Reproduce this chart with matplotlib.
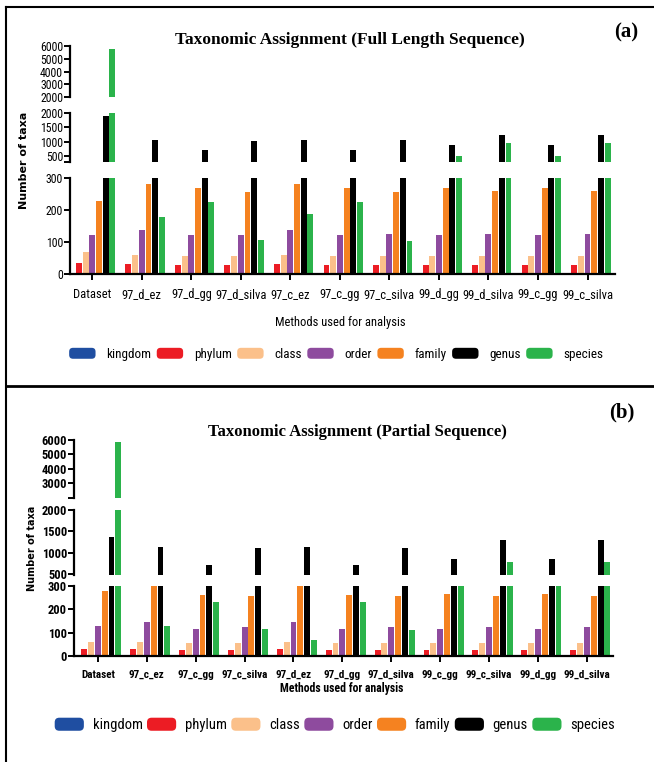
import matplotlib
matplotlib.use('Agg')
import matplotlib.pyplot as plt
from matplotlib.patches import Patch, FancyBboxPatch
from matplotlib.legend_handler import HandlerPatch
from matplotlib.lines import Line2D
from matplotlib import font_manager as fm
import numpy as np

ranks = ['kingdom', 'phylum', 'class', 'order', 'family', 'genus', 'species']
colors = ['#1f4ea1', '#ec1c24', '#fbc08a', '#8e4b9e', '#f58220', '#000000', '#2bb34b']

# Panel (a): Full length sequence
methods_a = ['Dataset', '97_d_ez', '97_d_gg', '97_d_silva', '97_c_ez', '97_c_gg',
             '97_c_silva', '99_d_gg', '99_d_silva', '99_c_gg', '99_c_silva']
kingdom_a = [3, 3, 3, 3, 3, 3, 3, 3, 3, 3, 3]
phylum_a = [35, 30, 28, 28, 30, 28, 28, 28, 28, 28, 28]
class_a = [70, 58, 57, 56, 59, 57, 56, 57, 57, 57, 57]
order_a = [123, 137, 121, 123, 136, 121, 124, 121, 126, 121, 126]
family_a = [229, 281, 268, 255, 280, 268, 256, 268, 258, 268, 258]
genus_a = [1900, 1060, 730, 1040, 1060, 710, 1050, 880, 1240, 880, 1240]
species_a = [5750, 178, 226, 106, 187, 225, 103, 515, 945, 515, 945]

# Panel (b): Partial sequence
methods_b = ['Dataset', '97_c_ez', '97_c_gg', '97_c_silva', '97_d_ez', '97_d_gg',
             '97_d_silva', '99_c_gg', '99_c_silva', '99_d_gg', '99_d_silva']
kingdom_b = [3, 3, 3, 3, 3, 3, 3, 3, 3, 3, 3]
phylum_b = [30, 30, 27, 27, 30, 27, 27, 27, 27, 27, 27]
class_b = [60, 62, 56, 57, 62, 56, 57, 57, 57, 57, 57]
order_b = [128, 147, 115, 123, 147, 115, 124, 116, 123, 116, 123]
family_b = [280, 320, 263, 257, 320, 262, 257, 265, 257, 265, 257]
genus_b = [1370, 1130, 700, 1110, 1130, 700, 1110, 850, 1290, 850, 1290]
species_b = [5870, 130, 233, 115, 68, 230, 112, 420, 780, 420, 780]

# pick a condensed sans face if one is installed
NARROW = ['Liberation Sans', 'DejaVu Sans']
STRETCH = 'normal'
SCALE = 0.9
_names = {f.name for f in fm.fontManager.ttflist}
for cand in ['Liberation Sans Narrow', 'Arial Narrow', 'Roboto Condensed',
             'Open Sans Condensed', 'Noto Sans Condensed', 'DejaVu Sans Condensed']:
    if cand in _names:
        NARROW = [cand, 'DejaVu Sans']
        SCALE = 1.0
        break
else:
    for f in fm.fontManager.ttflist:
        st = str(f.stretch)
        if 'condensed' in st and 'Mono' not in f.name and 'Serif' not in f.name \
                and 'CJK' not in f.name:
            NARROW = [f.name, 'DejaVu Sans']
            STRETCH = st
            SCALE = 1.0
            break

SERIF = ['Liberation Serif', 'DejaVu Serif']


def nfont(size, bold=False):
    return fm.FontProperties(family=NARROW, size=size * SCALE,
                             weight='bold' if bold else 'normal', stretch=STRETCH)


fig = plt.figure(figsize=(6.54, 7.62), dpi=100)


def panel(series, methods, left, width, boxes, limits, ticks, ticklabels,
          xlim, step, bw, tickfs, xtickfs, bold):
    axes = []
    for (b, h), lim, tk, tl in zip(boxes, limits, ticks, ticklabels):
        ax = fig.add_axes([left, b, width, h])
        x = np.arange(len(methods))
        for i, (vals, c) in enumerate(zip(series, colors)):
            ax.bar(x + (i - 3) * step, vals, width=bw, color=c, linewidth=0)
        ax.set_ylim(*lim)
        ax.set_xlim(*xlim)
        ax.set_yticks(tk)
        ax.set_yticklabels(tl, fontproperties=nfont(tickfs, bold))
        for s in ['top', 'right']:
            ax.spines[s].set_visible(False)
        ax.spines['left'].set_linewidth(1.6)
        ax.tick_params(axis='y', length=4, width=1.4, pad=1)
        ax.patch.set_alpha(0)
        axes.append(ax)
    for ax in axes[:-1]:
        ax.spines['bottom'].set_visible(False)
        ax.set_xticks([])
    axb = axes[-1]
    axb.spines['bottom'].set_linewidth(1.6)
    axb.set_xticks(np.arange(len(methods)))
    axb.set_xticklabels(methods, fontproperties=nfont(xtickfs, bold))
    axb.tick_params(axis='x', length=4, width=1.4, pad=6)
    return axes


series_a = [kingdom_a, phylum_a, class_a, order_a, family_a, genus_a, species_a]
series_b = [kingdom_b, phylum_b, class_b, order_b, family_b, genus_b, species_b]

panel(series_a, methods_a, 0.107, 0.833,
      [(0.8727, 0.0669), (0.7874, 0.0643), (0.6404, 0.126)],
      [(2000, 6000), (300, 2000), (0, 300)],
      [[2000, 3000, 4000, 5000, 6000], [300, 500, 1000, 1500, 2000], [0, 100, 200, 300]],
      [['2000', '3000', '4000', '5000', '6000'], ['', '500', '1000', '1500', '2000'],
       ['0', '100', '200', '300']],
      (-0.45, 10.55), 0.135, 0.12, 8.5, 9, False)

panel(series_b, methods_b, 0.113, 0.824,
      [(0.3465, 0.0761), (0.2454, 0.0853), (0.1391, 0.0919)],
      [(2000, 6000), (475, 2000), (0, 300)],
      [[2000, 3000, 4000, 5000, 6000], [500, 1000, 1500, 2000], [0, 100, 200, 300]],
      [['', '3000', '4000', '5000', '6000'], ['500', '1000', '1500', '2000'],
       ['0', '100', '200', '300']],
      (-0.49, 10.53), 0.14, 0.12, 9, 8, True)

# Titles and labels
fig.text(0.535, 0.9475, 'Taxonomic Assignment (Full Length Sequence)', ha='center',
         va='center', fontsize=12.5, fontweight='bold', family=SERIF)
fig.text(0.546, 0.433, 'Taxonomic Assignment (Partial Sequence)', ha='center',
         va='center', fontsize=12, fontweight='bold', family=SERIF)
fig.text(0.957, 0.957, '(a)', ha='center', va='center', fontsize=15,
         fontweight='bold', family=SERIF)
fig.text(0.951, 0.459, '(b)', ha='center', va='center', fontsize=15,
         fontweight='bold', family=SERIF)
fig.text(0.036, 0.789, 'Number of taxa', rotation=90, ha='center', va='center',
         fontsize=8, fontweight='bold', family=['DejaVu Sans'])
fig.text(0.049, 0.281, 'Number of taxa', rotation=90, ha='center', va='center',
         fontsize=7, fontweight='bold', family=['DejaVu Sans'])
fig.text(0.52, 0.577, 'Methods used for analysis', ha='center', va='center',
         fontproperties=nfont(9))
fig.text(0.523, 0.097, 'Methods used for analysis', ha='center', va='center',
         fontproperties=nfont(8.5, True))


class RoundHandler(HandlerPatch):
    def create_artists(self, legend, orig_handle, xdescent, ydescent, width, height,
                       fontsize, trans):
        p = FancyBboxPatch((-xdescent, -ydescent), width, height,
                           boxstyle='round,pad=0,rounding_size=%f' % (height * 0.35),
                           facecolor=orig_handle.get_facecolor(), edgecolor='none',
                           mutation_aspect=1)
        p.set_transform(trans)
        return [p]


handles = [Patch(facecolor=c, edgecolor='none', label=r) for r, c in zip(ranks, colors)]


def fit_legend(center_x, center_y, target_px, size, hh, tpad):
    cs = 2.0
    leg = None
    for _ in range(6):
        if leg is not None:
            leg.remove()
        leg = fig.legend(handles=handles, loc='center', bbox_to_anchor=(center_x, center_y),
                         ncol=7, frameon=False, prop=nfont(size),
                         handlelength=2.0, handleheight=hh, columnspacing=cs,
                         handletextpad=tpad, borderpad=0, borderaxespad=0,
                         handler_map={Patch: RoundHandler()})
        fig.canvas.draw()
        w = leg.get_window_extent().width
        diff = target_px - w
        cs = max(0.3, cs + diff / 6 / (size * SCALE * 100 / 72))
    return leg


fit_legend(0.514, 0.535, 534, 9.5, 0.9, 0.8)
fit_legend(0.512, 0.0486, 544, 10.5, 1.0, 0.6)

# Panel borders
fig.add_artist(Line2D([6 / 654, 1.0], [1 - 7 / 762, 1 - 7 / 762], color='black', lw=1.5,
                      transform=fig.transFigure))
fig.add_artist(Line2D([6 / 654, 6 / 654], [0, 1 - 7 / 762], color='black', lw=1.5,
                      transform=fig.transFigure))
fig.add_artist(Line2D([6 / 654, 1.0], [1 - 386 / 762, 1 - 386 / 762], color='black', lw=2,
                      transform=fig.transFigure))

fig.savefig('out.png', dpi=100)
